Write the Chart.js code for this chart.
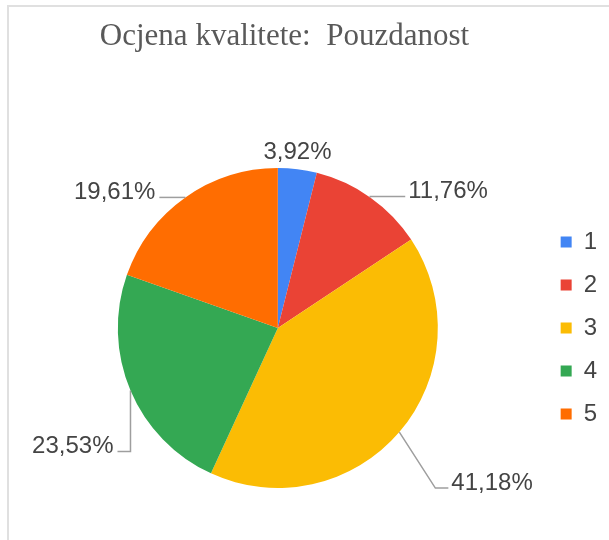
<!DOCTYPE html>
<html>
<head>
<meta charset="utf-8">
<script src="https://cdn.jsdelivr.net/npm/chart.js@4.4.1/dist/chart.umd.min.js"></script>
<style>
  html, body { margin: 0; padding: 0; background: #fff; }
  #wrap { position: relative; width: 609px; height: 540px; overflow: hidden; }
  #frame {
    position: absolute; left: 7px; top: 5px; width: 620px; height: 560px;
    border-top: 2px solid #e0e0e0; border-left: 2px solid #e0e0e0;
  }
  #myChart { position: absolute; left: 0; top: 0; }
</style>
</head>
<body>
<div id="wrap">
  <div id="frame"></div>
  <canvas id="myChart" width="609" height="540"></canvas>
</div>
<script>
// Podaci grafikona
const chartTitle = 'Ocjena kvalitete:  Pouzdanost';
const categories = ['1', '2', '3', '4', '5'];
const percentages = [3.92, 11.76, 41.18, 23.53, 19.61];
const sliceColors = ['#4285f4', '#ea4335', '#fbbc04', '#34a853', '#ff6d01'];

// Postotak u hrvatskom formatu (decimalni zarez)
function formatPct(v) {
    return v.toFixed(2).replace('.', ',') + '%';
}

// Naslov i oznake s vodilicama (kao Google grafikon)
const labelPlugin = {
    id: 'pieLabels',
    afterDraw(chart, args, opts) {
        const ctx = chart.ctx;
        ctx.save();

        // naslov
        ctx.font = '31px "Liberation Serif", "Times New Roman", serif';
        ctx.fillStyle = '#595959';
        ctx.textAlign = 'center';
        ctx.textBaseline = 'alphabetic';
        ctx.fillText(chartTitle, 284.5, 45);

        const meta = chart.getDatasetMeta(0);
        ctx.font = '24px "Liberation Sans", Arial, sans-serif';
        ctx.strokeStyle = '#9e9e9e';
        ctx.lineWidth = 1.5;

        meta.data.forEach((arc, i) => {
            const p = arc.getProps(['x', 'y', 'startAngle', 'endAngle', 'outerRadius'], true);
            const mid = (p.startAngle + p.endAngle) / 2;
            const ex = p.x + Math.cos(mid) * p.outerRadius;
            const ey = p.y + Math.sin(mid) * p.outerRadius;
            const place = opts.placement[i];
            const text = formatPct(percentages[i]);
            ctx.fillStyle = '#444';

            if (!place.tail) {
                // mala kriska: tekst odmah iznad ruba
                ctx.textAlign = 'center';
                ctx.fillText(text, ex, ey - 10);
                return;
            }
            const bx = ex + place.elbow[0];
            const by = ey + place.elbow[1];
            const tx = bx + place.tail;
            ctx.beginPath();
            ctx.moveTo(ex, ey);
            ctx.lineTo(bx, by);
            ctx.lineTo(tx, by);
            ctx.stroke();

            ctx.textAlign = place.tail > 0 ? 'left' : 'right';
            ctx.fillText(text, tx + (place.tail > 0 ? 3 : -4), by + 2);
        });
        ctx.restore();
    }
};

const ctx = document.getElementById('myChart').getContext('2d');
const pieChart = new Chart(ctx, {
    type: 'pie',
    data: {
        labels: categories,
        datasets: [{
            data: percentages,
            backgroundColor: sliceColors,
            borderWidth: 0
        }]
    },
    options: {
        responsive: false,
        animation: false,
        layout: {
            padding: { left: 14, right: 2, top: 168, bottom: 52 }
        },
        plugins: {
            title: { display: false },
            tooltip: { enabled: false },
            legend: {
                position: 'right',
                labels: {
                    boxWidth: 11,
                    boxHeight: 11,
                    padding: 19,
                    color: '#444',
                    font: { family: '"Liberation Sans", Arial, sans-serif', size: 24 }
                }
            },
            pieLabels: {
                placement: [
                    { tail: 0 },
                    { elbow: [0, -1], tail: 35 },
                    { elbow: [36, 56], tail: 13 },
                    { elbow: [0, 61], tail: -13 },
                    { elbow: [0, 0], tail: -26 }
                ]
            }
        }
    },
    plugins: [labelPlugin]
});
</script>
</body>
</html>
